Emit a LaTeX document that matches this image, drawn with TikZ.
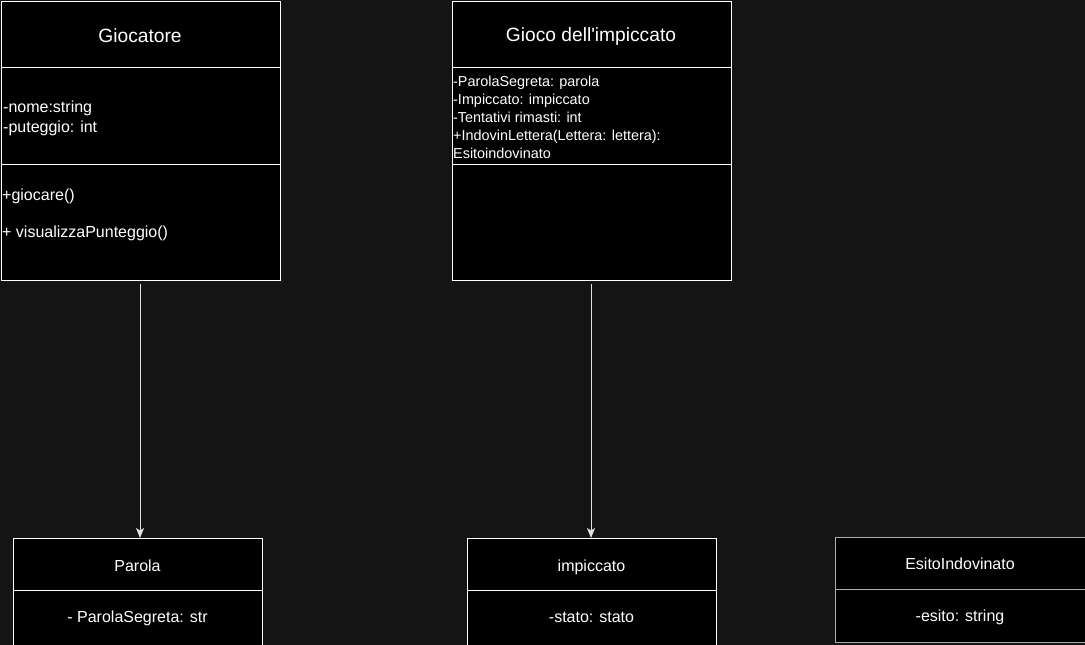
\documentclass[tikz,border=0pt]{standalone}
\usepackage{fontspec}
\setmainfont{Liberation Sans}
\newfontfamily\plainfont{Liberation Sans}
\usetikzlibrary{arrows.meta}
\definecolor{bgc}{RGB}{20,20,20}
\definecolor{linec}{RGB}{225,225,225}
\definecolor{grayb}{RGB}{175,175,175}
\tikzset{
  box/.style={draw=white, fill=black, line width=1pt, anchor=north west, inner sep=0pt},
  gbox/.style={box, draw=grayb},
  divider/.style={draw=white, line width=1pt},
  gdivider/.style={draw=grayb, line width=1pt},
  title/.style={text=white, anchor=base, inner sep=0pt, font=\plainfont\fontsize{19.2}{23}\selectfont},
  stitle/.style={text=white, anchor=base, inner sep=0pt, font=\fontsize{16}{19}\selectfont},
  attr/.style={text=white, anchor=base west, inner sep=0pt, font=\fontsize{16}{19}\selectfont},
  sattr/.style={text=white, anchor=base west, inner sep=0pt, font=\fontsize{14.4}{18}\selectfont},
  conn/.style={draw=linec, line width=1pt, -{Stealth[length=10pt,width=8pt,inset=2.5pt]}}
}
\begin{document}
\begin{tikzpicture}[x=1pt,y=-1pt]
\useasboundingbox (0,0) rectangle (1085,645);
\fill[bgc] (0,0) rectangle (1085,645);
\begin{scope}
\clip (0,0) rectangle (1085,645);
% Giocatore
\node[box, minimum width=279pt, minimum height=279pt] (gioc) at (1,1) {};
\draw[divider] (1,67) -- (280,67);
\draw[divider] (1,164) -- (280,164);
\node[title] (giocT) at (140,42) {Giocatore};
\node[attr] (ga1) at (3,112) {-nome:string};
\node[attr] (ga2) at (3,132) {-puteggio: int};
\node[attr] (gm1) at (2,200) {+giocare()};
\node[attr] (gm2) at (2,237) {+ visualizzaPunteggio()};
% Gioco dell'impiccato
\node[box, minimum width=279pt, minimum height=279pt] (gioco) at (452,1) {};
\draw[divider] (452,67) -- (731,67);
\draw[divider] (452,164) -- (731,164);
\node[title] (giocoT) at (591,41) {Gioco dell'impiccato};
\node[sattr] (s1) at (453,86) {-ParolaSegreta: parola};
\node[sattr] (s2) at (453,104) {-Impiccato: impiccato};
\node[sattr] (s3) at (453,122) {-Tentativi rimasti: int};
\node[sattr] (s4) at (453,140) {+IndovinLettera(Lettera: lettera):};
\node[sattr] (s5) at (453,158) {Esitoindovinato};
% Parola
\node[box, minimum width=249pt, minimum height=112pt] (parola) at (13,538) {};
\draw[divider] (13,590) -- (262,590);
\node[stitle] (parT) at (137.5,571) {Parola};
\node[stitle] (parA) at (137.5,622) {- ParolaSegreta: str};
% impiccato
\node[box, minimum width=249pt, minimum height=112pt] (impic) at (467,538) {};
\draw[divider] (467,590) -- (716,590);
\node[stitle] (impT) at (591.5,571) {impiccato};
\node[stitle] (impA) at (591.5,622) {-stato: stato};
% EsitoIndovinato
\node[gbox, minimum width=250pt, minimum height=105pt] (esito) at (835,537) {};
\draw[gdivider] (835,589) -- (1085,589);
\node[stitle] (esT) at (960,569) {EsitoIndovinato};
\node[stitle] (esA) at (960,621) {-esito: string};
\end{scope}
% connectors
\draw[conn] ([yshift=-3pt]gioc.south -| 140,0) -- (140,0 |- parola.north);
\draw[conn] ([yshift=-3pt]gioco.south -| 591,0) -- (591,0 |- impic.north);
\end{tikzpicture}
\end{document}
